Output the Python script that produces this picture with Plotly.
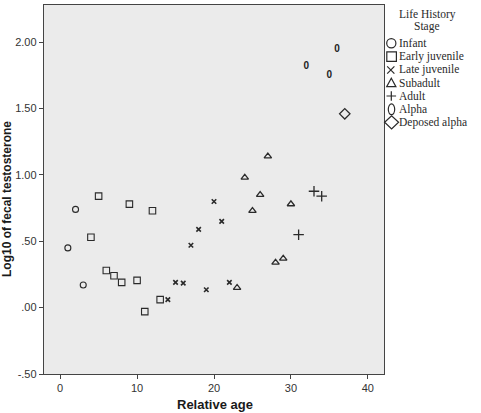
import plotly.graph_objects as go

# ---- data ----
infant_x = [1, 2, 3]
infant_y = [0.45, 0.74, 0.17]

early_juv_x = [4, 5, 6, 7, 8, 9, 10, 11, 12, 13]
early_juv_y = [0.53, 0.84, 0.28, 0.24, 0.19, 0.78, 0.205, -0.03, 0.73, 0.06]

late_juv_x = [14, 15, 16, 17, 18, 19, 20, 21, 22]
late_juv_y = [0.06, 0.19, 0.185, 0.47, 0.59, 0.135, 0.80, 0.65, 0.19]

subadult_x = [23, 24, 25, 26, 27, 28, 29, 30]
subadult_y = [0.15, 0.98, 0.73, 0.85, 1.14, 0.34, 0.37, 0.78]

adult_x = [31, 33, 34]
adult_y = [0.55, 0.877, 0.84]

alpha_x = [32, 35, 36]
alpha_y = [1.82, 1.75, 1.945]

deposed_x = [37]
deposed_y = [1.46]

y_tickvals = [-0.5, 0.0, 0.5, 1.0, 1.5, 2.0]
y_ticktext = ["-.50", ".00", ".50", "1.00", "1.50", "2.00"]
x_tickvals = [0, 10, 20, 30, 40]
x_ticktext = ["0", "10", "20", "30", "40"]

legend_title = ["Life History", "Stage"]
legend_labels = ["Infant", "Early juvenile", "Late juvenile", "Subadult",
                 "Adult", "Alpha", "Deposed alpha"]

# ---- layout geometry (pixels) ----
W, H = 481, 413
L, R, T, B = 44, 384, 5, 374
PW, PH = R - L, B - T
INK = "#2a2a2a"

def px(xp):
    return (xp - L) / PW

def py(yp):
    return (B - yp) / PH

fig = go.Figure()

def add_marker_trace(x, y, symbol, size, lw=1.1):
    fig.add_trace(go.Scatter(
        x=x, y=y, mode="markers", showlegend=False,
        marker=dict(symbol=symbol, size=size, color=INK,
                    line=dict(color=INK, width=lw)),
    ))

add_marker_trace(infant_x, infant_y, "circle-open", 6)
add_marker_trace(early_juv_x, early_juv_y, "square-open", 6.5)
add_marker_trace(late_juv_x, late_juv_y, "x-thin-open", 4.5, 1.6)
add_marker_trace(subadult_x, subadult_y, "triangle-up-open", 6.5, 1.3)
add_marker_trace(adult_x, adult_y, "cross-thin-open", 7.5, 1.3)
fig.add_trace(go.Scatter(
    x=alpha_x, y=alpha_y, mode="text", text=["<b>0</b>"] * len(alpha_x),
    textposition="middle center", showlegend=False,
    textfont=dict(family="Liberation Sans", size=10, color="#222"),
))
add_marker_trace(deposed_x, deposed_y, "diamond-open", 8, 1.3)

# ---- manual legend (SPSS style) ----
shapes = []
annots = []
row_y = [43.3, 56.6, 70.0, 82.8, 96.0, 109.3, 122.3]
sym_x = 391.3

def shp(kind, cx, cy, x0, x1, y0, y1, path=None):
    d = dict(type=kind, xref="paper", yref="paper",
             xsizemode="pixel", ysizemode="pixel",
             xanchor=px(cx), yanchor=py(cy),
             line=dict(color=INK, width=1.2), layer="above")
    if path is not None:
        d["path"] = path
    else:
        d.update(x0=x0, x1=x1, y0=y0, y1=y1)
    return d

# infant circle
shapes.append(shp("circle", sym_x, row_y[0], -4.6, 4.6, -4.6, 4.6))
# early juvenile square
shapes.append(shp("rect", sym_x + 0.3, row_y[1], -4.8, 4.8, -4.8, 4.8))
# late juvenile x
shapes.append(shp("path", sym_x - 0.5, row_y[2], 0, 0, 0, 0,
                  path="M -3.6,-3.6 L 3.6,3.6 M -3.6,3.6 L 3.6,-3.6"))
# subadult triangle
shapes.append(shp("path", sym_x, row_y[3], 0, 0, 0, 0,
                  path="M -4.6,-3.8 L 4.6,-3.8 L 0,4.6 Z"))
# adult plus
shapes.append(shp("path", sym_x, row_y[4], 0, 0, 0, 0,
                  path="M -4.8,0 L 4.8,0 M 0,-4.8 L 0,4.8"))
# alpha oval
shapes.append(shp("circle", sym_x + 0.2, row_y[5], -3.2, 3.2, -5.4, 5.4))
# deposed alpha diamond
shapes.append(shp("path", sym_x + 0.3, row_y[6], 0, 0, 0, 0,
                  path="M -7,0 L 0,6.6 L 7,0 L 0,-6.6 Z"))

for lab, yy in zip(legend_labels, row_y):
    annots.append(dict(text=lab, xref="paper", yref="paper",
                       x=px(397.5), y=py(yy), xanchor="left", yanchor="middle",
                       showarrow=False, borderpad=0,
                       font=dict(family="Liberation Serif", size=11.5, color=INK)))

for t, yy in zip(legend_title, [14.5, 27.0]):
    annots.append(dict(text=t, xref="paper", yref="paper",
                       x=px(427), y=py(yy), xanchor="center", yanchor="middle",
                       showarrow=False, borderpad=0,
                       font=dict(family="Liberation Serif", size=11.5, color=INK)))

# axis titles
annots.append(dict(text="<b>Relative age</b>", xref="paper", yref="paper",
                   x=px(214.5), y=py(404.5), xanchor="center", yanchor="middle",
                   showarrow=False, borderpad=0,
                   font=dict(family="Liberation Sans", size=13, color="#1a1a1a")))
annots.append(dict(text="<b>Log10 of fecal testosterone</b>", xref="paper", yref="paper",
                   x=px(7), y=py(199), xanchor="center", yanchor="middle",
                   textangle=-90, showarrow=False, borderpad=0,
                   font=dict(family="Liberation Sans", size=12, color="#1a1a1a")))

fig.update_layout(
    width=W, height=H, autosize=False,
    margin=dict(l=L, r=W - R, t=T, b=H - B, pad=0),
    paper_bgcolor="white", plot_bgcolor="#ebebeb",
    shapes=shapes, annotations=annots,
    font=dict(family="Liberation Sans", size=11, color="#333"),
)
fig.update_xaxes(
    range=[-2.1, 42.1], tickvals=x_tickvals, ticktext=x_ticktext,
    showgrid=False, zeroline=False, showline=True, mirror=True,
    linecolor="#444", linewidth=1.4, ticks="outside", ticklen=4,
    tickcolor="#444", tickwidth=1.2,
    tickfont=dict(family="Liberation Sans", size=11, color="#333"),
)
fig.update_yaxes(
    range=[-0.5, 2.28], tickvals=y_tickvals, ticktext=y_ticktext,
    showgrid=False, zeroline=False, showline=True, mirror=True,
    linecolor="#444", linewidth=1.4, ticks="outside", ticklen=4,
    tickcolor="#444", tickwidth=1.2,
    tickfont=dict(family="Liberation Sans", size=11, color="#333"),
)

fig.write_html("out.html")
